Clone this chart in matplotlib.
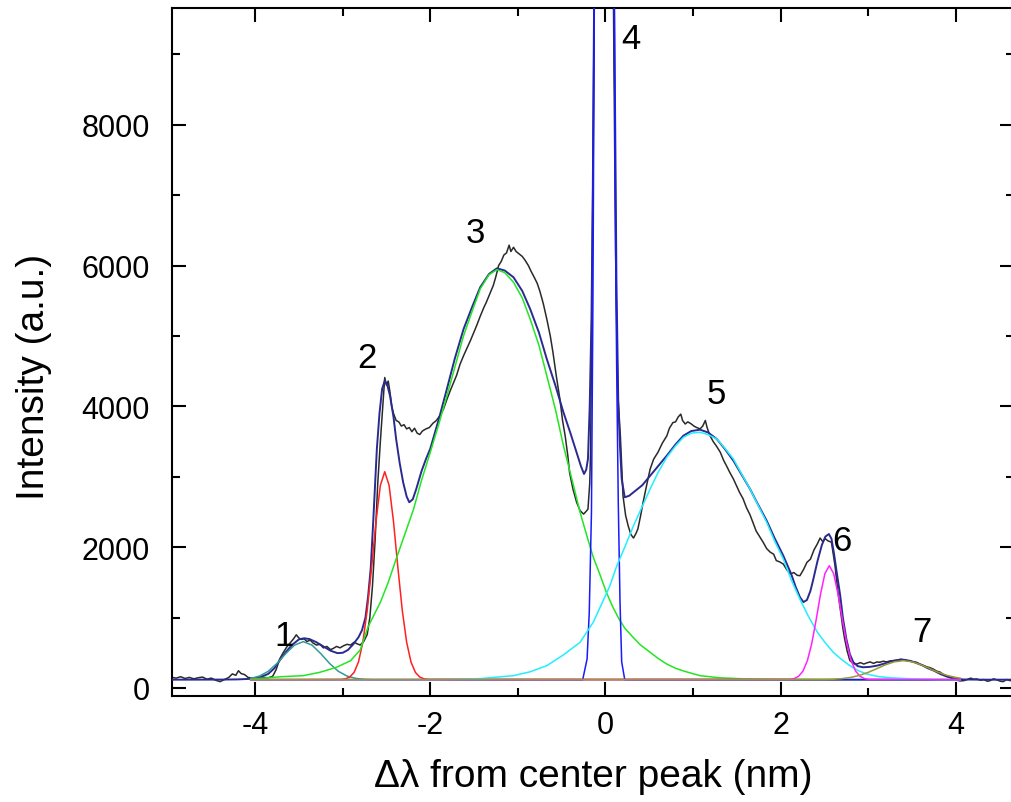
import matplotlib
matplotlib.use('Agg')
import matplotlib.pyplot as plt
from matplotlib.ticker import MultipleLocator

plt.rcParams['font.family'] = ['Liberation Sans', 'DejaVu Sans']
plt.rcParams['axes.unicode_minus'] = False
narrow = ['Liberation Sans Narrow', 'Liberation Sans', 'DejaVu Sans']

data_x = [-4.95, -4.90, -4.85, -4.80, -4.75, -4.70, -4.65, -4.60, -4.55, -4.50, -4.45, -4.40, -4.35, -4.30,
          -4.26, -4.22, -4.19, -4.16, -4.12, -4.08, -4.04, -4.00, -3.95, -3.90, -3.85, -3.80, -3.76, -3.72,
          -3.68, -3.64, -3.60, -3.56, -3.53, -3.50, -3.47, -3.44, -3.41, -3.37, -3.34, -3.30, -3.26, -3.22,
          -3.18, -3.14, -3.11, -3.07, -3.03, -2.99, -2.95, -2.91, -2.87, -2.84, -2.80, -2.76, -2.72, -2.69,
          -2.66, -2.63, -2.60, -2.57, -2.55, -2.53, -2.52, -2.50, -2.48, -2.46, -2.44, -2.42, -2.39, -2.36,
          -2.33, -2.30, -2.27, -2.24, -2.21, -2.18, -2.15, -2.12, -2.09, -2.05, -2.01, -1.97, -1.93, -1.89,
          -1.85, -1.81, -1.77, -1.73, -1.70, -1.66, -1.62, -1.58, -1.54, -1.50, -1.47, -1.43, -1.39, -1.36,
          -1.32, -1.28, -1.25, -1.22, -1.19, -1.16, -1.13, -1.10, -1.08, -1.05, -1.02, -0.99, -0.95, -0.92,
          -0.88, -0.85, -0.82, -0.78, -0.75, -0.71, -0.67, -0.63, -0.60, -0.56, -0.52, -0.49, -0.46, -0.43,
          -0.41, -0.37, -0.33, -0.29, -0.25, -0.22, -0.20, -0.18, -0.17, -0.155, -0.14, -0.128, -0.02, 0.09,
          0.115, 0.14, 0.17, 0.20, 0.23, 0.26, 0.29, 0.32, 0.35, 0.37, 0.40, 0.43, 0.47, 0.51, 0.55, 0.60,
          0.65, 0.70, 0.73, 0.77, 0.80, 0.83, 0.86, 0.88, 0.91, 0.94, 0.98, 1.01, 1.04, 1.08, 1.11, 1.14,
          1.16, 1.19, 1.23, 1.27, 1.31, 1.35, 1.38, 1.42, 1.46, 1.50, 1.53, 1.57, 1.61, 1.65, 1.69, 1.72,
          1.76, 1.80, 1.84, 1.88, 1.92, 1.95, 1.99, 2.03, 2.07, 2.11, 2.15, 2.19, 2.22, 2.26, 2.30, 2.34,
          2.38, 2.42, 2.45, 2.48, 2.51, 2.54, 2.58, 2.60, 2.62, 2.65, 2.68, 2.71, 2.73, 2.76, 2.79, 2.83,
          2.87, 2.91, 2.95, 2.98, 3.02, 3.06, 3.10, 3.13, 3.17, 3.21, 3.25, 3.29, 3.33, 3.37, 3.40, 3.44,
          3.48, 3.52, 3.55, 3.59, 3.63, 3.67, 3.70, 3.74, 3.78, 3.82, 3.86, 3.90, 3.93, 3.97, 4.01, 4.05,
          4.09, 4.13, 4.17, 4.20, 4.24, 4.28, 4.32, 4.36, 4.39, 4.43, 4.47, 4.51, 4.54, 4.58, 4.62, 4.66]
data_y = [150, 140, 160, 135, 150, 130, 145, 155, 125, 140, 110, 90, 120, 150,
          200, 180, 245, 205, 190, 150, 140, 125, 130, 150, 145, 165, 260, 410,
          500, 580, 640, 700, 755, 710, 690, 700, 660, 680, 640, 610, 620, 570,
          590, 545, 560, 590, 570, 600, 620, 610, 650, 630, 610, 660, 760, 1000,
          1450, 2100, 2900, 3500, 3870, 4250, 4410, 4300, 4360, 4200, 4000, 3900, 3800, 3780,
          3720, 3740, 3680, 3700, 3640, 3690, 3620, 3600, 3650, 3680, 3700, 3760, 3800, 3870,
          3960, 4100, 4230, 4350, 4440, 4600, 4720, 4830, 4940, 5060, 5150, 5280, 5400, 5480,
          5600, 5720, 5850, 6000, 6060, 6150, 6180, 6290, 6200, 6260, 6200, 6170, 6130, 6080,
          6000, 5920, 5850, 5750, 5640, 5460, 5240, 5000, 4770, 4420, 4100, 3800, 3580, 3300,
          3060, 2820, 2640, 2520, 2470, 2510, 2540, 2900, 3350, 5500, 8000, 9900, 30000, 9900,
          6200, 4200, 3580, 2730, 2450, 2300, 2180, 2130, 2200, 2260, 2440, 2640, 2880, 3110, 3250, 3350,
          3480, 3580, 3690, 3770, 3780, 3850, 3890, 3800, 3750, 3780, 3750, 3720, 3700, 3680, 3720, 3800,
          3700, 3590, 3500, 3430, 3350, 3230, 3160, 3060, 2970, 2860, 2780, 2690, 2560, 2460, 2330, 2230,
          2150, 2070, 1980, 1930, 1900, 1810, 1790, 1760, 1680, 1620, 1640, 1600, 1595, 1680, 1785, 1830,
          1960, 2050, 2130, 2080, 2120, 2090, 2070, 1900, 1740, 1400, 1120, 850, 700, 520, 390, 345,
          340, 360, 340, 355, 370, 350, 370, 365, 380, 370, 385, 390, 395, 410, 400, 390,
          380, 370, 365, 340, 320, 300, 290, 270, 240, 225, 190, 165, 150, 130, 110, 100,
          104, 120, 140, 125, 128, 110, 120, 95, 104, 130, 115, 95, 90, 120, 104, 110]

# cumulative fit (navy)
fit_x = [-4.95, -4.40, -4.20, -4.05, -3.95, -3.85, -3.78, -3.72, -3.65, -3.58, -3.50, -3.44, -3.38, -3.30,
         -3.22, -3.14, -3.06, -3.00, -2.94, -2.88, -2.82, -2.78, -2.74, -2.71, -2.68, -2.65, -2.61, -2.58,
         -2.55, -2.52, -2.49, -2.46, -2.42, -2.39, -2.35, -2.31, -2.27, -2.24, -2.20, -2.16, -2.10, -2.05,
         -2.00, -1.90, -1.81, -1.72, -1.62, -1.52, -1.43, -1.33, -1.24, -1.15, -1.05, -0.95, -0.86, -0.76,
         -0.67, -0.57, -0.48, -0.40, -0.33, -0.28, -0.245, -0.22, -0.20, -0.18, -0.16, -0.145, -0.13, -0.01,
         0.10, 0.125, 0.146, 0.165, 0.185, 0.22, 0.27, 0.32, 0.42, 0.51, 0.60, 0.70, 0.80, 0.89,
         0.98, 1.08, 1.17, 1.27, 1.36, 1.46, 1.55, 1.65, 1.74, 1.84, 1.93, 2.03, 2.12, 2.17, 2.22,
         2.26, 2.30, 2.34, 2.37, 2.42, 2.47, 2.51, 2.55, 2.58, 2.61, 2.64, 2.68, 2.71, 2.75, 2.79,
         2.83, 2.88, 2.94, 3.02, 3.10, 3.18, 3.25, 3.33, 3.40, 3.48, 3.55, 3.62, 3.68, 3.75, 3.82,
         3.90, 3.98, 4.08, 4.30, 4.66]
fit_y = [118, 119, 122, 130, 150, 200, 280, 390, 510, 610, 690, 706, 695, 650,
         590, 530, 495, 500, 540, 620, 720, 820, 1000, 1300, 1700, 2400, 3395, 3900,
         4247, 4365, 4300, 4152, 3850, 3537, 3200, 2922, 2720, 2638, 2680, 2827, 3080, 3250,
         3400, 3830, 4250, 4680, 5099, 5420, 5692, 5880, 5961, 5930, 5834, 5640, 5384, 5050,
         4673, 4290, 3916, 3620, 3348, 3150, 3040, 3100, 3253, 4000, 5241, 7000, 9700, 60000,
         9700, 5800, 4058, 3450, 2969, 2709, 2730, 2780, 2880, 3016, 3150, 3300, 3460, 3584,
         3650, 3669, 3630, 3537, 3400, 3229, 3040, 2827, 2610, 2377, 2130, 1879, 1620, 1440, 1290,
         1220, 1250, 1380, 1530, 1800, 2030, 2150, 2187, 2120, 1900, 1640, 1311, 1000, 696, 480,
         365, 310, 294, 300, 317, 345, 374, 395, 402, 385, 355, 320, 280, 246, 200,
         161, 135, 121, 118, 118]

# fitted components, peaks 1-7
p1_x = [-4.05, -3.95, -3.85, -3.75, -3.65, -3.55, -3.45, -3.35, -3.25, -3.15, -3.05, -2.95, -2.85, -2.75, -2.65, 4.05]
p1_y = [136, 169, 237, 349, 488, 609, 658, 609, 488, 349, 237, 169, 136, 123, 119, 118]

p2_x = [-4.05, -3.02, -2.97, -2.92, -2.87, -2.82, -2.77, -2.72, -2.67, -2.62, -2.57, -2.52,
        -2.47, -2.42, -2.37, -2.32, -2.27, -2.22, -2.17, -2.12, -2.07, -2.02, 4.05]
p2_y = [118, 121, 129, 155, 221, 368, 650, 1104, 1711, 2364, 2877, 3072,
        2877, 2364, 1711, 1104, 650, 368, 221, 155, 129, 121, 118]

p3_x = [-4.05, -3.90, -3.70, -3.45, -3.26, -3.07, -2.91, -2.80, -2.71, -2.57, -2.48, -2.39, -2.30,
        -2.19, -2.10, -2.00, -1.90, -1.81, -1.71, -1.62, -1.52, -1.43, -1.33, -1.24, -1.15, -1.05,
        -0.95, -0.86, -0.76, -0.67, -0.57, -0.48, -0.38, -0.29, -0.21, -0.14, -0.06, 0.01, 0.08,
        0.15, 0.22, 0.30, 0.40, 0.51, 0.60, 0.70, 0.80, 0.90, 1.08, 1.30, 1.60, 2.00, 2.50, 4.05]
p3_y = [125, 140, 160, 175, 223, 294, 388, 540, 870, 1217, 1500, 1832, 2150,
        2543, 2950, 3348, 3760, 4152, 4600, 5004, 5360, 5668, 5870, 5942, 5900, 5763,
        5540, 5241, 4870, 4436, 3950, 3442, 2950, 2496, 2150, 1860, 1600, 1359, 1160,
        990, 850, 740, 610, 507, 420, 340, 280, 238, 175, 145, 128, 121, 119, 118]

p4_x = [-4.05, -0.26, -0.21, -0.185, -0.16, -0.143, -0.128, -0.01, 0.10, 0.12, 0.128, 0.146, 0.166, 0.185, 0.22, 4.05]
p4_y = [118, 118, 412, 1080, 2500, 5568, 9645, 60000, 9645, 5568, 4531, 2638, 1220, 370, 118, 118]

p5_x = [-4.05, -2.00, -1.85, -1.43, -1.05, -0.86, -0.67, -0.48, -0.29, -0.14, -0.06, 0.05, 0.13, 0.22,
        0.32, 0.42, 0.51, 0.60, 0.70, 0.80, 0.89, 0.98, 1.08, 1.17, 1.27, 1.36, 1.46, 1.55, 1.65,
        1.74, 1.84, 1.93, 2.03, 2.12, 2.22, 2.32, 2.42, 2.51, 2.60, 2.70, 2.79, 2.88, 2.98, 3.10,
        3.25, 3.40, 3.60, 3.80, 4.05]
p5_y = [118, 118, 120, 133, 175, 230, 317, 470, 649, 933, 1150, 1450, 1737, 2000,
        2305, 2580, 2827, 3060, 3277, 3440, 3561, 3620, 3632, 3600, 3537, 3410, 3253, 3050, 2827,
        2600, 2354, 2090, 1832, 1540, 1260, 1010, 791, 640, 507, 400, 317, 250, 199, 165,
        145, 135, 125, 120, 118]

p6_x = [-4.05, 2.105, 2.155, 2.205, 2.255, 2.305, 2.355, 2.405, 2.455, 2.505, 2.555,
        2.605, 2.655, 2.705, 2.755, 2.805, 2.855, 2.905, 2.955, 3.005, 4.05]
p6_y = [118, 123, 134, 166, 241, 388, 632, 967, 1333, 1625, 1737,
        1625, 1333, 967, 632, 388, 241, 166, 134, 123, 118]

p7_x = [-4.05, 2.50, 2.60, 2.70, 2.80, 2.90, 3.00, 3.10, 3.20, 3.30, 3.40,
        3.50, 3.60, 3.70, 3.80, 3.90, 4.00, 4.05]
p7_y = [118, 120, 124, 133, 150, 179, 222, 276, 331, 372, 388,
        372, 331, 276, 222, 179, 150, 140]

comp_colors = ['#339999', '#ff2020', '#22e622', '#1a1aff', '#22eeff', '#ff22ff', '#9a9a30']

peak_names = ['1', '2', '3', '4', '5', '6', '7']
peak_lx = [-3.67, -2.72, -1.49, 0.29, 1.26, 2.70, 3.61]
peak_ly = [740, 4700, 6470, 9230, 4190, 2100, 800]

fig = plt.figure(figsize=(10.11, 8.03), dpi=100)
ax = fig.add_axes([0.1701, 0.132, 0.8328, 0.8568])

ax.plot(data_x, data_y, color='#2a2a2a', lw=1.1, zorder=2)
ax.plot(fit_x, fit_y, color='#2a2a90', lw=1.4, zorder=3)
comps = [(p1_x, p1_y), (p2_x, p2_y), (p3_x, p3_y), (p4_x, p4_y), (p5_x, p5_y), (p6_x, p6_y), (p7_x, p7_y)]
for (cx, cy), c in zip(comps, comp_colors):
    ax.plot(cx, cy, color=c, lw=1.1, zorder=4)

for name, lx, ly in zip(peak_names, peak_lx, peak_ly):
    ax.text(lx, ly, name, fontsize=25, family=narrow, ha='center', va='center')

ax.set_xlim(-4.949, 4.663)
ax.set_ylim(-114, 9659)
ax.xaxis.set_major_locator(MultipleLocator(2))
ax.xaxis.set_minor_locator(MultipleLocator(1))
ax.yaxis.set_major_locator(MultipleLocator(2000))
ax.yaxis.set_minor_locator(MultipleLocator(1000))
ax.tick_params(which='both', direction='in', top=True, right=True, width=1.5, labelsize=22)
ax.tick_params(which='major', length=10)
ax.tick_params(which='minor', length=6)
ax.tick_params(axis='y', pad=16)
ax.tick_params(axis='x', pad=10)
for s in ax.spines.values():
    s.set_linewidth(1.5)

ax.set_xlabel('Δλ from center peak (nm)', fontsize=28, family=narrow)
ax.set_ylabel('Intensity (a.u.)', fontsize=28, family=narrow)
ax.xaxis.set_label_coords(0.5, -0.09)
ax.yaxis.set_label_coords(-0.142, 0.465)

fig.savefig('out.png', dpi=100)
